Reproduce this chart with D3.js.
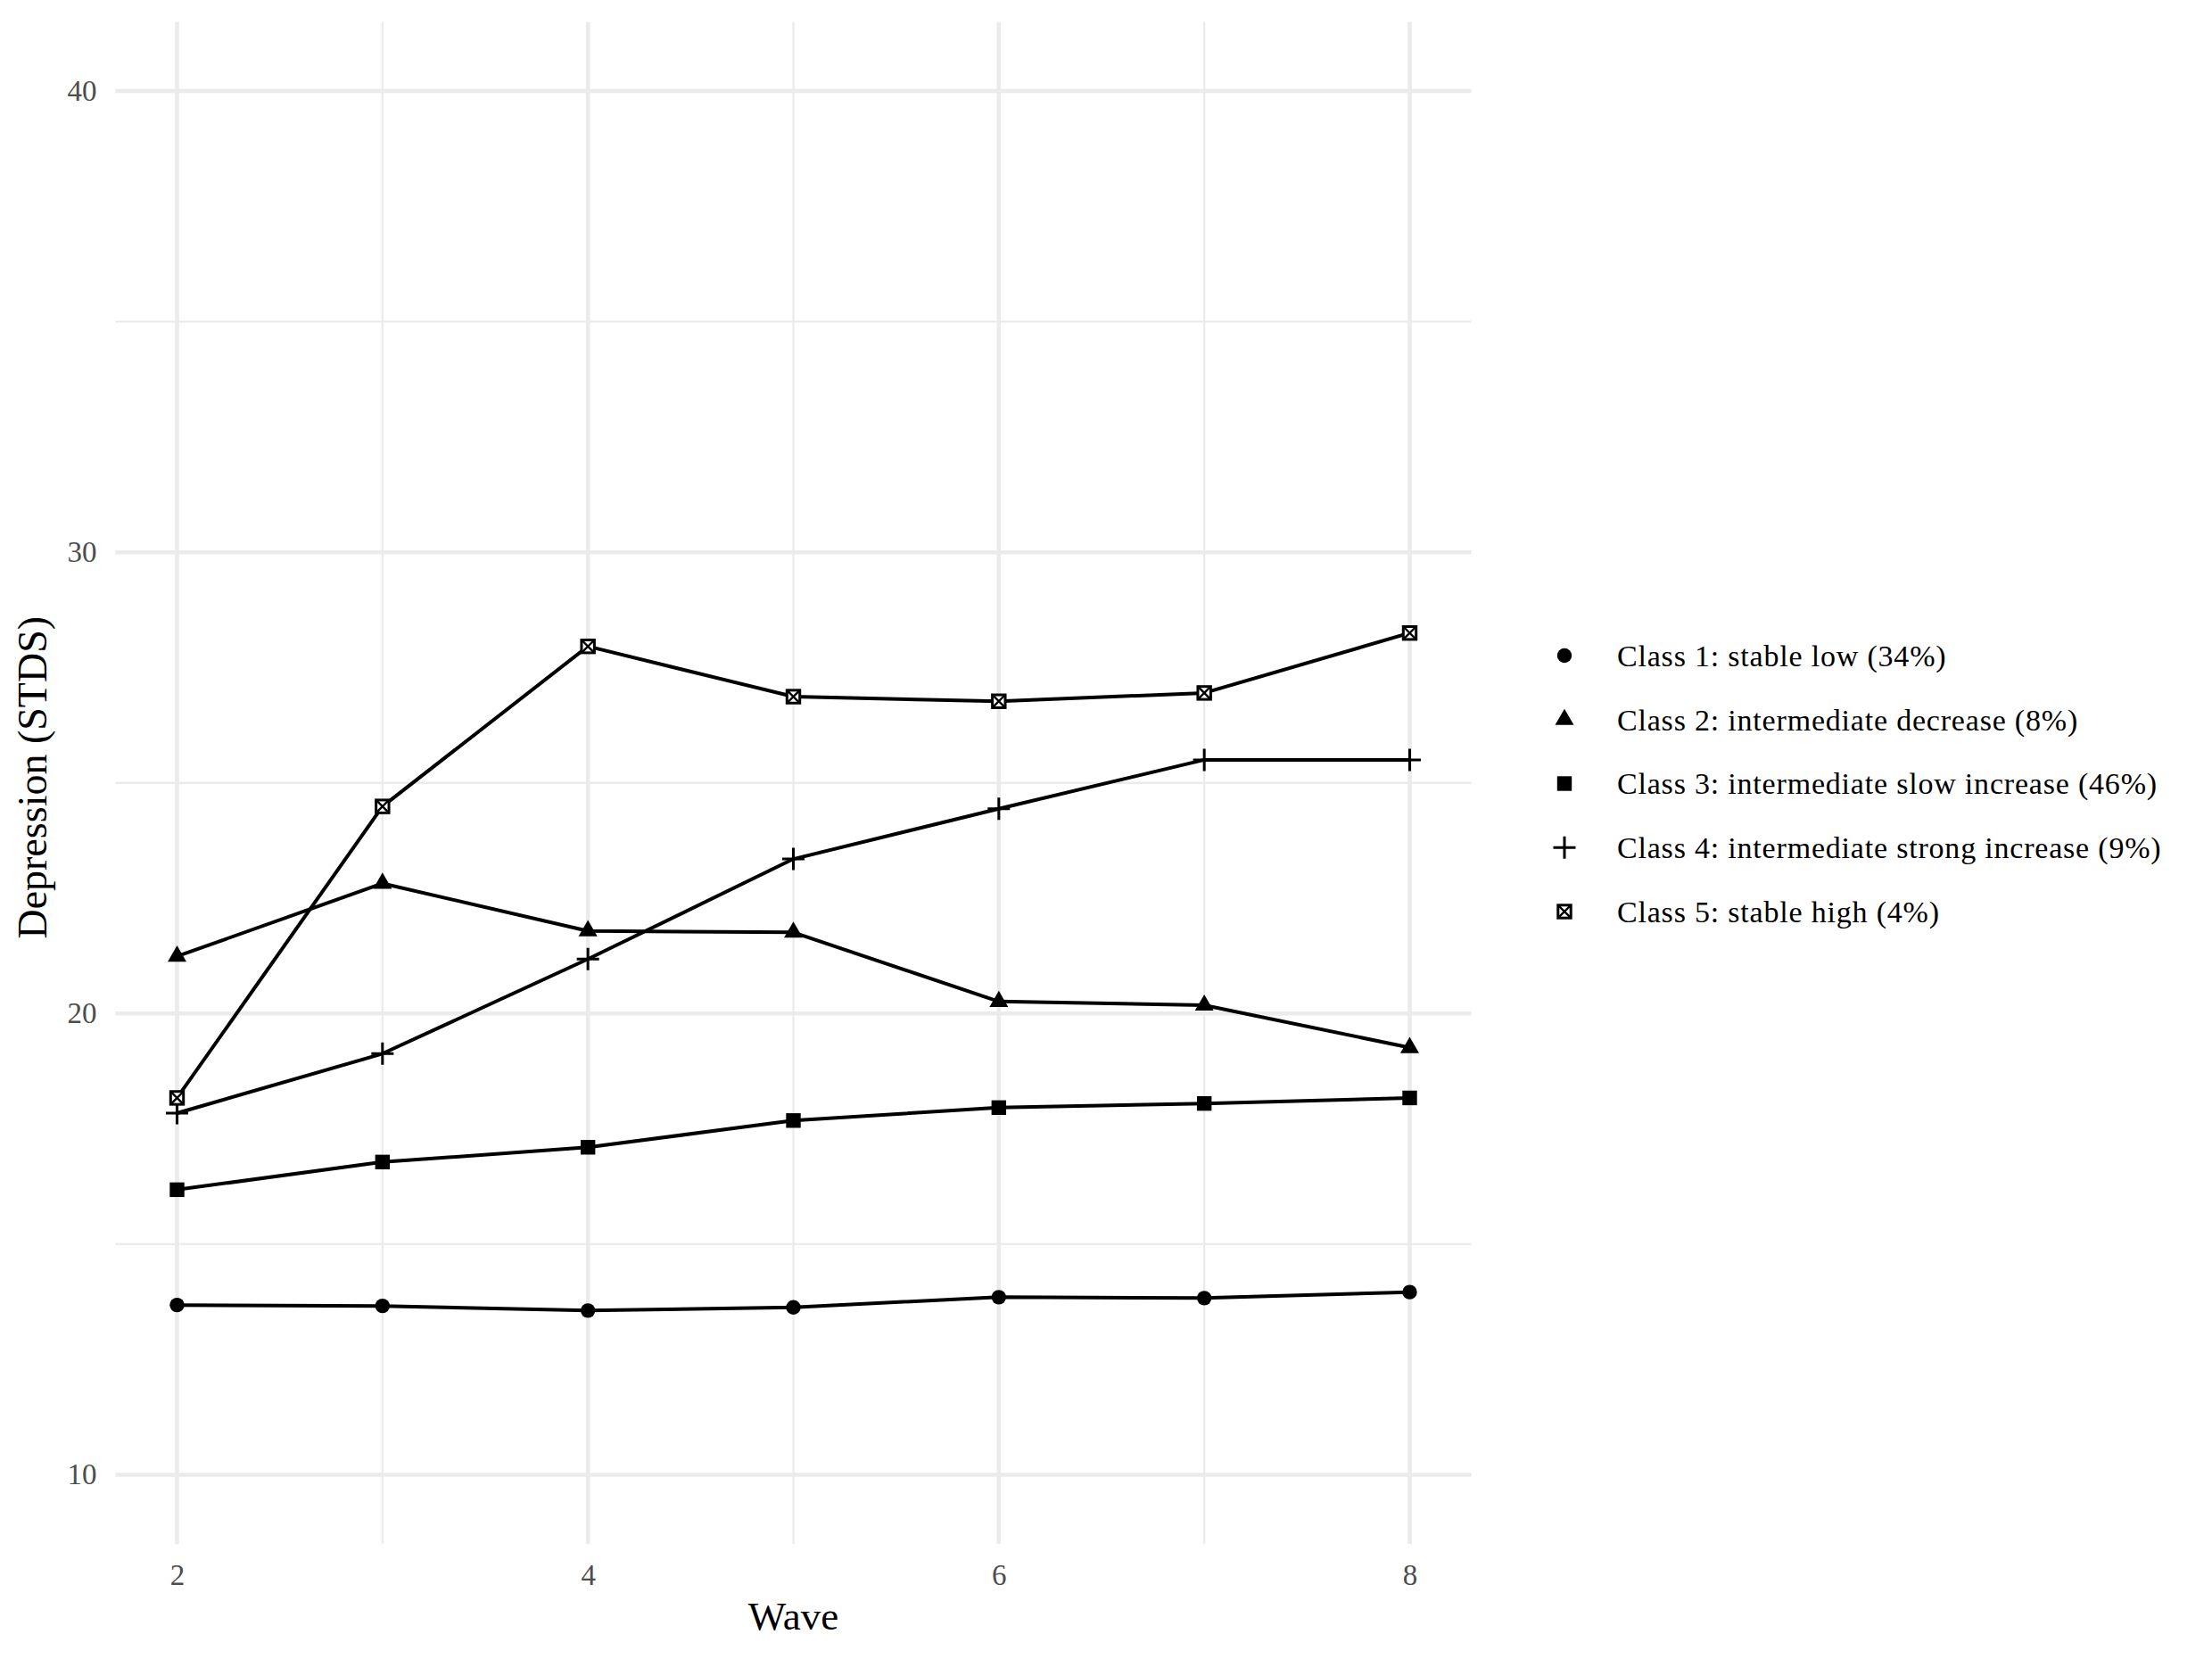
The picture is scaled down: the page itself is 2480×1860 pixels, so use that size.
<!DOCTYPE html>
<html>
<head>
<meta charset="utf-8">
<script src="https://cdn.jsdelivr.net/npm/d3@7"></script>
<style>
  body { margin: 0; background: #fff; }
  text { font-family: 'Liberation Serif', 'DejaVu Serif', serif; }
</style>
</head>
<body>
<div id="chart"></div>
<script>
// depression trajectories by latent class
const waves = [2, 3, 4, 5, 6, 7, 8];
const classLabels = [
  'Class 1: stable low (34%)',
  'Class 2: intermediate decrease (8%)',
  'Class 3: intermediate slow increase (46%)',
  'Class 4: intermediate strong increase (9%)',
  'Class 5: stable high (4%)',
];
const class1 = [13.68, 13.66, 13.56, 13.63, 13.85, 13.83, 13.96];
const class2 = [21.24, 22.82, 21.79, 21.76, 20.26, 20.18, 19.26];
const class3 = [16.18, 16.78, 17.10, 17.68, 17.96, 18.05, 18.17];
const class4 = [17.84, 19.13, 21.18, 23.35, 24.44, 25.50, 25.50];
const class5 = [18.17, 24.49, 27.96, 26.87, 26.77, 26.95, 28.25];
const yTicks = [10, 20, 30, 40];
const xTicks = [2, 4, 6, 8];

const series = [class1, class2, class3, class4, class5];
const shapes = ['circle', 'triangle', 'square', 'plus', 'boxx'];

const size = { width: 2480, height: 1860 };
const panel = { left: 129.4, right: 1649.6, top: 24.5, bottom: 1731 };

const svg = d3.select('#chart')
  .append('svg')
  .attr('width', size.width)
  .attr('height', size.height);

svg.append('rect').attr('width', size.width).attr('height', size.height).attr('fill', '#fff');

// ggplot style limits: 10-40 with 5% expansion
const x = d3.scaleLinear().domain([1.7, 8.3]).range([panel.left, panel.right]);
const y = d3.scaleLinear().domain([8.5, 41.5]).range([panel.bottom, panel.top]);

/**
 * Grid
 */
const grid = svg.append('g');
const gridColor = '#ebebeb';

grid.selectAll('.ymin')
  .data([15, 25, 35])
  .enter()
  .append('line')
  .attr('x1', panel.left).attr('x2', panel.right)
  .attr('y1', (d) => y(d)).attr('y2', (d) => y(d))
  .attr('stroke', gridColor).attr('stroke-width', 2.3);

grid.selectAll('.xmin')
  .data([3, 5, 7])
  .enter()
  .append('line')
  .attr('y1', panel.top).attr('y2', panel.bottom)
  .attr('x1', (d) => x(d)).attr('x2', (d) => x(d))
  .attr('stroke', gridColor).attr('stroke-width', 2.3);

grid.selectAll('.ymaj')
  .data(yTicks)
  .enter()
  .append('line')
  .attr('x1', panel.left).attr('x2', panel.right)
  .attr('y1', (d) => y(d)).attr('y2', (d) => y(d))
  .attr('stroke', gridColor).attr('stroke-width', 4.6);

grid.selectAll('.xmaj')
  .data(xTicks)
  .enter()
  .append('line')
  .attr('y1', panel.top).attr('y2', panel.bottom)
  .attr('x1', (d) => x(d)).attr('x2', (d) => x(d))
  .attr('stroke', gridColor).attr('stroke-width', 4.6);

/**
 * Axes (labels only, theme_minimal)
 */
const yAxis = svg.append('g')
  .attr('transform', `translate(${panel.left},0)`)
  .call(d3.axisLeft(y).tickValues(yTicks).tickFormat(d3.format('d')).tickSize(0).tickPadding(21));

const xAxis = svg.append('g')
  .attr('transform', `translate(0,${panel.bottom})`)
  .call(d3.axisBottom(x).tickValues(xTicks).tickFormat(d3.format('d')).tickSize(0).tickPadding(23));

[yAxis, xAxis].forEach((ax) => {
  ax.select('.domain').remove();
  ax.selectAll('text')
    .attr('fill', '#4d4d4d')
    .style('font-size', '33px')
    .style('font-family', "'Liberation Serif', serif");
});

svg.append('text')
  .text('Wave')
  .attr('x', (panel.left + panel.right) / 2)
  .attr('y', 1827)
  .attr('text-anchor', 'middle')
  .style('font-size', '45px');

svg.append('text')
  .text('Depression (STDS)')
  .attr('transform', `translate(52,${(panel.top + panel.bottom) / 2 - 6}) rotate(-90)`)
  .attr('text-anchor', 'middle')
  .style('font-size', '46px');

/**
 * Markers
 */
const drawShape = (g, shape) => {
  if (shape === 'circle') {
    g.append('circle').attr('r', 8.2).attr('fill', '#000');
  } else if (shape === 'triangle') {
    const s = 21;
    const h = s * 0.866;
    g.append('path')
      .attr('d', `M0,${-h * 2 / 3}L${s / 2},${h / 3}L${-s / 2},${h / 3}Z`)
      .attr('fill', '#000');
  } else if (shape === 'square') {
    g.append('rect').attr('x', -8.2).attr('y', -8.2).attr('width', 16.4).attr('height', 16.4)
      .attr('fill', '#000');
  } else if (shape === 'plus') {
    g.append('path')
      .attr('d', 'M-12.5,0H12.5M0,-12.5V12.5')
      .attr('stroke', '#000').attr('stroke-width', 3).attr('fill', 'none');
  } else {
    const a = 7.2;
    g.append('rect').attr('x', -a).attr('y', -a).attr('width', 2 * a).attr('height', 2 * a)
      .attr('stroke', '#000').attr('stroke-width', 3).attr('fill', '#fff');
    g.append('path')
      .attr('d', `M${-a},${-a}L${a},${a}M${a},${-a}L${-a},${a}`)
      .attr('stroke', '#000').attr('stroke-width', 2.4);
  }
};

/**
 * Lines + points
 */
const line = d3.line()
  .x((d, i) => x(waves[i]))
  .y((d) => y(d));

const plot = svg.append('g');

series.forEach((vals) => {
  plot.append('path')
    .datum(vals)
    .attr('d', line)
    .attr('fill', 'none')
    .attr('stroke', '#000')
    .attr('stroke-width', 4)
    .attr('stroke-linejoin', 'round');
});

series.forEach((vals, k) => {
  plot.append('g')
    .selectAll('g')
    .data(vals)
    .enter()
    .append('g')
    .attr('transform', (d, i) => `translate(${x(waves[i])},${y(d)})`)
    .each(function () { drawShape(d3.select(this), shapes[k]); });
});

/**
 * Legend
 */
const legend = svg.append('g');
const legendRow = d3.scaleLinear().domain([0, 4]).range([735, 1022]);

classLabels.forEach((label, k) => {
  const row = legend.append('g').attr('transform', `translate(0,${legendRow(k)})`);
  drawShape(row.append('g').attr('transform', 'translate(1754,0)'), shapes[k]);
  row.append('text')
    .text(label)
    .attr('x', 1813)
    .attr('dy', '0.35em')
    .style('font-size', '34px')
    .style('letter-spacing', '0.8px');
});
</script>
</body>
</html>
